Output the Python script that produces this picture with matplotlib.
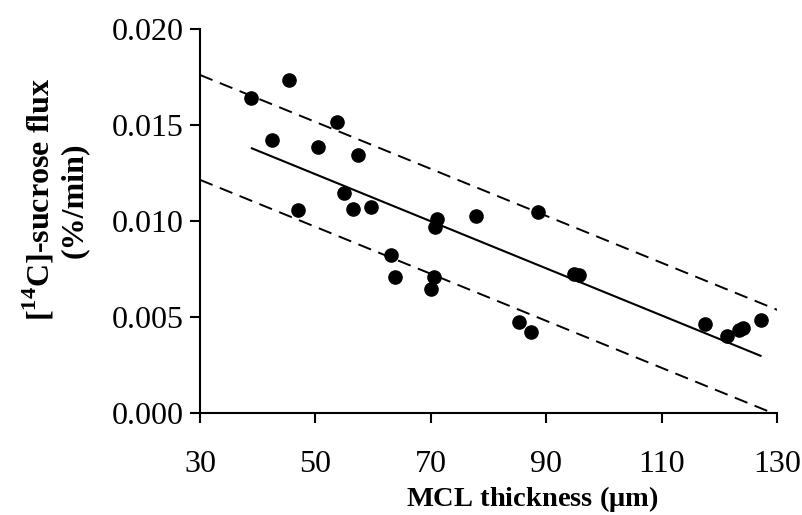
import matplotlib

matplotlib.use("Agg")
import matplotlib.pyplot as plt

# MCL thickness (um) vs [14C]-sucrose flux (%/min)
thickness = [38.8, 45.4, 42.5, 53.8, 50.5, 57.4, 55.0, 46.9, 56.5, 59.7,
             71.1, 70.7, 77.8, 63.1, 63.7, 70.6, 70.1, 85.3, 87.3, 88.6,
             94.8, 95.7, 117.4, 121.3, 123.3, 124.0, 127.1]
flux = [0.01639, 0.01736, 0.01423, 0.01517, 0.01387, 0.01344, 0.01144,
        0.01057, 0.01063, 0.01074, 0.01012, 0.00970, 0.01028, 0.00821,
        0.00710, 0.00710, 0.00647, 0.00472, 0.00423, 0.01048, 0.00724,
        0.00719, 0.00464, 0.00403, 0.00432, 0.00443, 0.00484]

# regression line and 95% prediction band, as drawn
fit_x = [39.0, 127.1]
fit_y = [0.01378, 0.00298]
band_x = [30, 130]
band_hi = [0.01760, 0.00537]
band_lo = [0.01214, -0.00010]

xticks = [30, 50, 70, 90, 110, 130]
yticks = [0.000, 0.005, 0.010, 0.015, 0.020]

plt.rcParams.update({
    "font.family": "Liberation Serif",
    "mathtext.fontset": "custom",
    "mathtext.rm": "Liberation Serif",
    "mathtext.bf": "Liberation Serif:bold",
})

fig = plt.figure(figsize=(8.03, 5.15), dpi=100)
ax = fig.add_axes([0.249, 0.198, 0.719, 0.746])

ax.plot(band_x, band_hi, color="black", lw=1.4, dashes=(7, 4))
ax.plot(band_x, band_lo, color="black", lw=1.4, dashes=(7, 4))
ax.plot(fit_x, fit_y, color="black", lw=1.5)
ax.plot(thickness, flux, "o", color="black", ms=9.5, mec="black")

ax.set_xlim(30, 130)
ax.set_ylim(0, 0.020)
ax.set_xticks(xticks)
ax.set_xticklabels([str(v) for v in xticks])
ax.set_yticks(yticks)
ax.set_yticklabels([f"{v:.3f}" for v in yticks])

for side in ("top", "right"):
    ax.spines[side].set_visible(False)
for side in ("left", "bottom"):
    ax.spines[side].set_linewidth(1.5)
ax.tick_params(direction="out", length=7.5, width=1.5, labelsize=23)
ax.tick_params(axis="y", pad=4)
ax.tick_params(axis="x", pad=19)

ax.set_xlabel(r"MCL thickness ($\mathbf{\mu}$m)", fontsize=20.5, fontweight="bold")
ax.xaxis.set_label_coords(0.575, -0.186)
ax.set_ylabel("[$^{\\mathbf{14}}$C]-sucrose flux\n(%/min)", fontsize=23,
              fontweight="bold", linespacing=1.15)
ax.yaxis.set_label_coords(-0.192, 0.555)

fig.savefig("out.png", dpi=100)
